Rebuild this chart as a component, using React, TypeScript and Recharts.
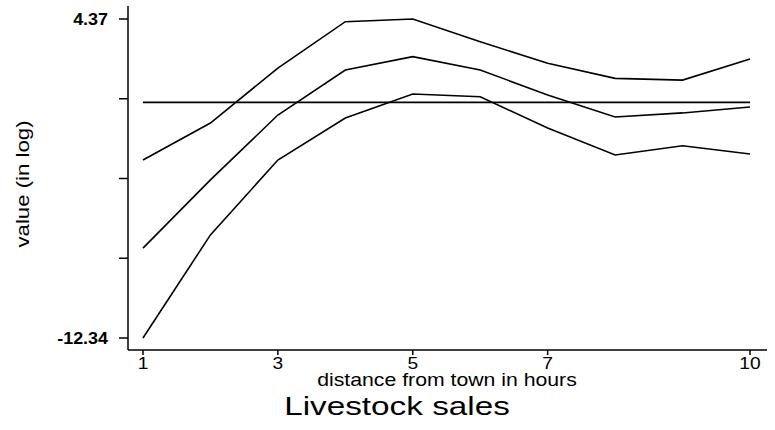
import { LineChart, Line, XAxis, YAxis } from "recharts";

// distance from town (hours)
const hours = [1, 2, 3, 4, 5, 6, 7, 8, 9, 10];
// point estimate and band, value in log
const upperBand = [-3.02, -1.08, 1.8, 4.23, 4.37, 3.18, 2.05, 1.26, 1.17, 2.27];
const estimate = [-7.63, -4.06, -0.66, 1.7, 2.4, 1.7, 0.39, -0.76, -0.55, -0.24];
const lowerBand = [-12.34, -6.94, -3.02, -0.82, 0.44, 0.3, -1.34, -2.75, -2.27, -2.7];
const zeroLine = [0, 0, 0, 0, 0, 0, 0, 0, 0, 0];

const xTicks = [1, 3, 5, 7, 10];
const yTicks = [-12.34, -8.1625, -3.985, 0.1925, 4.37];
const yLabelled = [-12.34, 4.37];

const xTitle = "distance from town in hours";
const yTitle = "value (in log)";
const chartTitle = "Livestock sales";

const data = hours.map((h, i) => ({
  h,
  upper: upperBand[i],
  est: estimate[i],
  lower: lowerBand[i],
  zero: zeroLine[i],
}));

const FONT = "'Liberation Sans', Arial, sans-serif";
const STRETCH = 1.2;

const YTick = (props: any) => {
  const { x, y, payload } = props;
  if (!yLabelled.includes(payload.value)) return null;
  return (
    <text
      transform={`translate(${x},${y + 6}) scale(1.12,1)`}
      textAnchor="end"
      fontSize={16}
      fontWeight="bold"
      fontFamily={FONT}
      fill="#000"
    >
      {payload.value.toFixed(2)}
    </text>
  );
};

const XTick = (props: any) => {
  const { x, y, payload } = props;
  return (
    <text
      transform={`translate(${x},${y + 13}) scale(${STRETCH},1)`}
      textAnchor="middle"
      fontSize={16}
      fontFamily={FONT}
      fill="#000"
    >
      {payload.value}
    </text>
  );
};

const XTitles = () => (
  <g fontFamily={FONT} fill="#000">
    <text
      transform={`translate(447,386) scale(1.18,1)`}
      textAnchor="middle"
      fontSize={18}
    >
      {xTitle}
    </text>
    <text
      transform={`translate(397,415) scale(1.28,1)`}
      textAnchor="middle"
      fontSize={26}
    >
      {chartTitle}
    </text>
  </g>
);

const YTitle = () => (
  <text
    transform={`translate(29,184) rotate(-90) scale(1.17,1)`}
    textAnchor="middle"
    fontSize={19}
    fontFamily={FONT}
    fill="#000"
  >
    {yTitle}
  </text>
);

export default function App() {
  return (
    <div style={{ position: "absolute", left: 0, top: 0, background: "#fff" }}>
      <LineChart
        width={775}
        height={430}
        data={data}
        margin={{ top: 6, right: 8, bottom: 50, left: 0 }}
      >
        <XAxis
          dataKey="h"
          type="number"
          domain={[0.778, 10.252]}
          allowDataOverflow
          ticks={xTicks}
          tickSize={5}
          tickMargin={1}
          height={30}
          stroke="#000"
          strokeWidth={1.5}
          tick={XTick}
          label={{ content: XTitles }}
        />
        <YAxis
          type="number"
          domain={[-12.969, 5.051]}
          allowDataOverflow
          ticks={yTicks}
          tickSize={9}
          tickMargin={11}
          width={128}
          stroke="#000"
          strokeWidth={1.5}
          tick={YTick}
          label={{ content: YTitle }}
        />
        <Line
          dataKey="zero"
          stroke="#000"
          strokeWidth={1.6}
          dot={false}
          isAnimationActive={false}
        />
        <Line
          dataKey="upper"
          stroke="#000"
          strokeWidth={1.6}
          dot={false}
          isAnimationActive={false}
        />
        <Line
          dataKey="est"
          stroke="#000"
          strokeWidth={1.6}
          dot={false}
          isAnimationActive={false}
        />
        <Line
          dataKey="lower"
          stroke="#000"
          strokeWidth={1.6}
          dot={false}
          isAnimationActive={false}
        />
      </LineChart>
    </div>
  );
}
